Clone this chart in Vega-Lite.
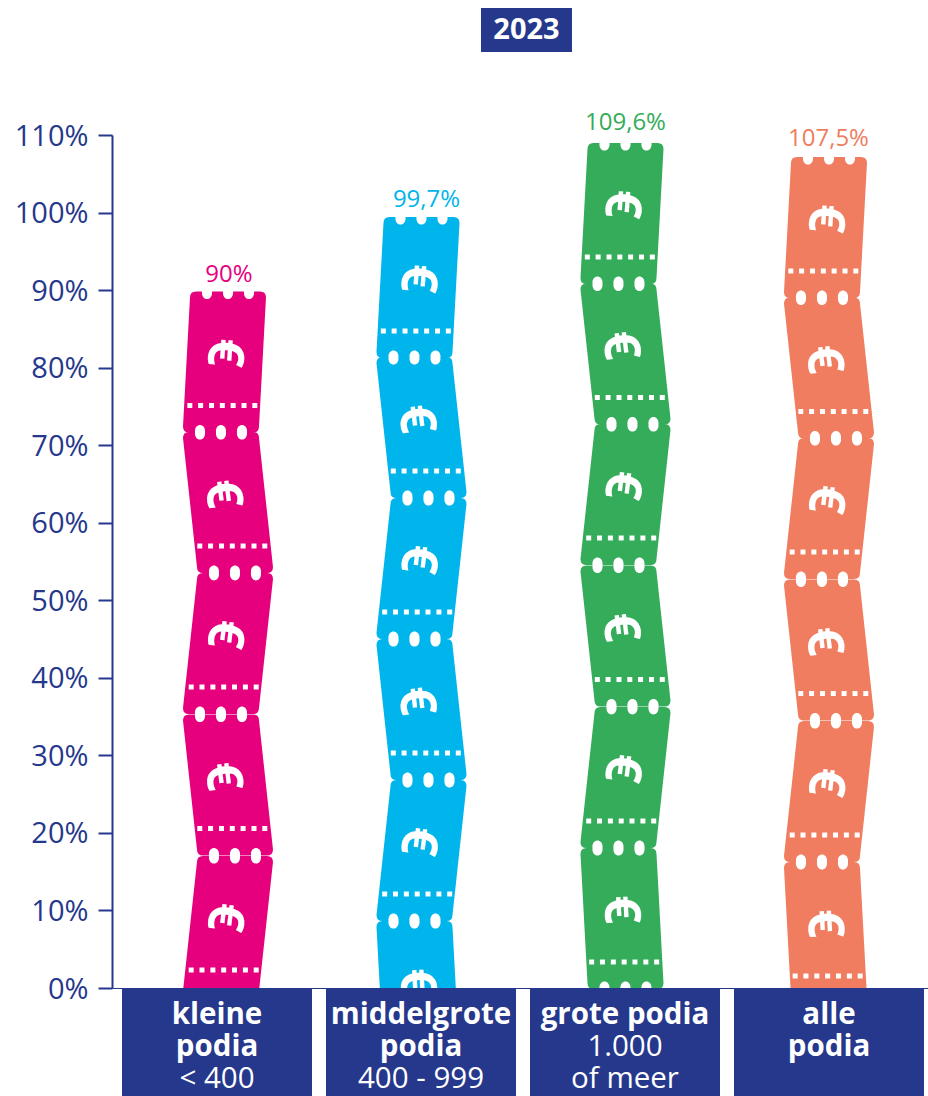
{
"$schema":"https://vega.github.io/schema/vega-lite/v6.json",
"width":816,"height":853,
"autosize":{"type":"none"},
"padding":{"left":112,"top":135,"right":0,"bottom":108},
"background":"white",
"config":{"view":{"stroke":null},"font":"Open Sans"},
"datasets":{
"tickets":[
{"podium":"kleine podia","midden":7.93,"vorm":"R","hoek":97,"schuif":106},
{"podium":"kleine podia","midden":26.18,"vorm":"L","hoek":83,"schuif":106},
{"podium":"kleine podia","midden":44.43,"vorm":"R","hoek":97,"schuif":106},
{"podium":"kleine podia","midden":62.61,"vorm":"L","hoek":83,"schuif":106},
{"podium":"kleine podia","midden":80.73,"vorm":"RT","hoek":94,"schuif":106},
{"podium":"middelgrote podia","midden":-0.45,"vorm":"LB","hoek":87,"schuif":95.5},
{"podium":"middelgrote podia","midden":17.73,"vorm":"R","hoek":97,"schuif":95.5},
{"podium":"middelgrote podia","midden":35.91,"vorm":"L","hoek":83,"schuif":95.5},
{"podium":"middelgrote podia","midden":54.1,"vorm":"R","hoek":97,"schuif":95.5},
{"podium":"middelgrote podia","midden":72.28,"vorm":"L","hoek":83,"schuif":95.5},
{"podium":"middelgrote podia","midden":90.33,"vorm":"RT","hoek":94,"schuif":95.5},
{"podium":"grote podia","midden":8.96,"vorm":"LB","hoek":87,"schuif":95.5},
{"podium":"grote podia","midden":27.15,"vorm":"R","hoek":97,"schuif":95.5},
{"podium":"grote podia","midden":45.39,"vorm":"L","hoek":83,"schuif":95.5},
{"podium":"grote podia","midden":63.64,"vorm":"R","hoek":97,"schuif":95.5},
{"podium":"grote podia","midden":81.76,"vorm":"L","hoek":83,"schuif":95.5},
{"podium":"grote podia","midden":99.88,"vorm":"RT","hoek":94,"schuif":95.5},
{"podium":"alle podia","midden":7.16,"vorm":"LB","hoek":87,"schuif":95},
{"podium":"alle podia","midden":25.34,"vorm":"R","hoek":97,"schuif":95},
{"podium":"alle podia","midden":43.59,"vorm":"L","hoek":83,"schuif":95},
{"podium":"alle podia","midden":61.83,"vorm":"R","hoek":97,"schuif":95},
{"podium":"alle podia","midden":79.95,"vorm":"L","hoek":83,"schuif":95},
{"podium":"alle podia","midden":98.07,"vorm":"RT","hoek":94,"schuif":95}
],
"waarden":[
{"podium":"kleine podia","waarde":90,"label":"90%","schuif":107},
{"podium":"middelgrote podia","waarde":99.7,"label":"99,7%","schuif":100.5},
{"podium":"grote podia","waarde":109.6,"label":"109,6%","schuif":95.5},
{"podium":"alle podia","waarde":107.5,"label":"107,5%","schuif":94.5}
],
"vakken":[
{"podium":"kleine podia","van":0,"tot":-13.93},
{"podium":"middelgrote podia","van":0,"tot":-13.93},
{"podium":"grote podia","van":0,"tot":-13.93},
{"podium":"alle podia","van":0,"tot":-13.93}
],
"regels":[
{"podium":"kleine podia","regel":"kleine","hoogte":-3.47,"gewicht":"bold"},
{"podium":"kleine podia","regel":"podia","hoogte":-7.6,"gewicht":"bold"},
{"podium":"kleine podia","regel":"< 400","hoogte":-11.72,"gewicht":"normal"},
{"podium":"middelgrote podia","regel":"middelgrote","hoogte":-3.47,"gewicht":"bold"},
{"podium":"middelgrote podia","regel":"podia","hoogte":-7.6,"gewicht":"bold"},
{"podium":"middelgrote podia","regel":"400 - 999","hoogte":-11.72,"gewicht":"normal"},
{"podium":"grote podia","regel":"grote podia","hoogte":-3.47,"gewicht":"bold"},
{"podium":"grote podia","regel":"1.000","hoogte":-7.6,"gewicht":"normal"},
{"podium":"grote podia","regel":"of meer","hoogte":-11.72,"gewicht":"normal"},
{"podium":"alle podia","regel":"alle","hoogte":-3.47,"gewicht":"bold"},
{"podium":"alle podia","regel":"podia","hoogte":-7.6,"gewicht":"bold"}
],
"jaar":[{"podium":"middelgrote podia","jaar":"2023","hoogte":123.54,"schuif":200.5}]
},
"encoding":{
"x":{"field":"podium","type":"nominal","sort":["kleine podia","middelgrote podia","grote podia","alle podia"],
"scale":{"domain":["kleine podia","middelgrote podia","grote podia","alle podia"],"type":"band","paddingInner":0.0686,"paddingOuter":0.0343,"align":0.714},
"axis":{"title":null,"labels":false,"ticks":false,"domain":true,"domainColor":"#25388c","domainWidth":1,"grid":false}}
},
"layer":[
{"data":{"name":"tickets"},
"mark":{"type":"point","filled":true,"opacity":1,"size":4},
"encoding":{
"xOffset":{"field":"schuif","type":"quantitative","scale":{"domain":[0,300],"range":[0,300]}},
"y":{"field":"midden","type":"quantitative",
"scale":{"domain":[0,110],"nice":false,"zero":false},
"axis":{"title":null,"values":[0,10,20,30,40,50,60,70,80,90,100,110],"labelExpr":"datum.value + '%'","labelFont":"Open Sans","labelFontSize":29,"labelColor":"#25388c","labelPadding":10,"labelOffset":1,"tickSize":14,"tickWidth":2,"tickColor":"#25388c","domainColor":"#25388c","domainWidth":2,"grid":false}},
"color":{"field":"podium","type":"nominal","legend":null,"scale":{"domain":["kleine podia","middelgrote podia","grote podia","alle podia"],"range":["#e6007e","#00b5ec","#34ac5a","#f07d60"]}},
"shape":{"field":"vorm","type":"nominal","legend":null,"scale":{"domain":["R","L","RT","LB"],"range":[
"M-25 -70.5h6c-1 10 11 10 10 0h11c-1 10 11 10 10 0h11c-1 10 11 10 10 0h6q6 0 6 6L31 64.5q0 6 -6 6h-6c1 -10 -11 -10 -10 0h-11c1 -10 -11 -10 -10 0h-11c1 -10 -11 -10 -10 0h-6q-6 0 -6 -6L-31 -64.5q0 -6 6 -6zM-39.3 41v5h5v-5zM-28.5 41v5h5v-5zM-17.6 41v5h5v-5zM-6.8 41v5h5v-5zM4 41v5h5v-5zM14.9 41v5h5v-5zM25.7 41v5h5v-5z",
"M-39 -70.5h6c-1 10 11 10 10 0h11c-1 10 11 10 10 0h11c-1 10 11 10 10 0h6q6 0 6 6L45 64.5q0 6 -6 6h-6c1 -10 -11 -10 -10 0h-11c1 -10 -11 -10 -10 0h-11c1 -10 -11 -10 -10 0h-6q-6 0 -6 -6L-45 -64.5q0 -6 6 -6zM-30.7 41v5h5v-5zM-19.9 41v5h5v-5zM-9 41v5h5v-5zM1.8 41v5h5v-5zM12.6 41v5h5v-5zM23.5 41v5h5v-5zM34.3 41v5h5v-5z",
"M-32 -70.5h6c-1 10 11 10 10 0h11c-1 10 11 10 10 0h11c-1 10 11 10 10 0h6q6 0 6 6L31 64.5q0 6 -6 6h-6c1 -10 -11 -10 -10 0h-11c1 -10 -11 -10 -10 0h-11c1 -10 -11 -10 -10 0h-6q-6 0 -6 -6L-38 -64.5q0 -6 6 -6zM-40.66 41v5h5v-5zM-29.86 41v5h5v-5zM-18.96 41v5h5v-5zM-8.16 41v5h5v-5zM2.64 41v5h5v-5zM13.54 41v5h5v-5zM24.34 41v5h5v-5z",
"M-39 -70.5h6c-1 10 11 10 10 0h11c-1 10 11 10 10 0h11c-1 10 11 10 10 0h6q6 0 6 6L38 64.5q0 6 -6 6h-6c1 -10 -11 -10 -10 0h-11c1 -10 -11 -10 -10 0h-11c1 -10 -11 -10 -10 0h-6q-6 0 -6 -6L-45 -64.5q0 -6 6 -6zM-36.34 41v5h5v-5zM-25.54 41v5h5v-5zM-14.64 41v5h5v-5zM-3.84 41v5h5v-5zM6.96 41v5h5v-5zM17.86 41v5h5v-5zM28.66 41v5h5v-5z"
]}}
}},
{"data":{"name":"tickets"},
"mark":{"type":"text","font":"Open Sans","fontWeight":"bold","fontSize":50,"color":"white","align":"center","baseline":"middle","dx":-9,"dy":5,"text":"€"},
"encoding":{
"xOffset":{"field":"schuif","type":"quantitative"},
"y":{"field":"midden","type":"quantitative"},
"angle":{"field":"hoek","type":"quantitative","scale":null}
}},
{"data":{"name":"vakken"},
"mark":{"type":"bar","width":190,"color":"#25388c"},
"encoding":{
"y":{"field":"van","type":"quantitative"},
"y2":{"field":"tot"}
}},
{"data":{"name":"regels"},
"transform":[{"filter":"datum.gewicht === 'bold'"}],
"mark":{"type":"text","font":"Open Sans","fontWeight":"bold","fontSize":29.5,"color":"white","align":"center","baseline":"middle"},
"encoding":{
"y":{"field":"hoogte","type":"quantitative"},
"text":{"field":"regel"}
}},
{"data":{"name":"regels"},
"transform":[{"filter":"datum.gewicht === 'normal'"}],
"mark":{"type":"text","font":"Open Sans","fontSize":29.5,"color":"white","align":"center","baseline":"middle"},
"encoding":{
"y":{"field":"hoogte","type":"quantitative"},
"text":{"field":"regel"}
}},
{"data":{"name":"waarden"},
"mark":{"type":"text","font":"Open Sans","fontSize":24,"align":"center","baseline":"middle","dy":-15},
"encoding":{
"xOffset":{"field":"schuif","type":"quantitative"},
"y":{"field":"waarde","type":"quantitative"},
"text":{"field":"label"},
"color":{"field":"podium","type":"nominal","legend":null}
}},
{"data":{"name":"jaar"},
"mark":{"type":"point","filled":true,"opacity":1,"size":4,"color":"#25388c","shape":"M-45.5 -22H45.5V22H-45.5Z"},
"encoding":{
"xOffset":{"field":"schuif","type":"quantitative"},
"y":{"field":"hoogte","type":"quantitative"}
}},
{"data":{"name":"jaar"},
"mark":{"type":"text","font":"Open Sans","fontWeight":"bold","fontSize":29,"color":"white","align":"center","baseline":"middle"},
"encoding":{
"xOffset":{"field":"schuif","type":"quantitative"},
"y":{"field":"hoogte","type":"quantitative"},
"text":{"field":"jaar"}
}}
]
}
